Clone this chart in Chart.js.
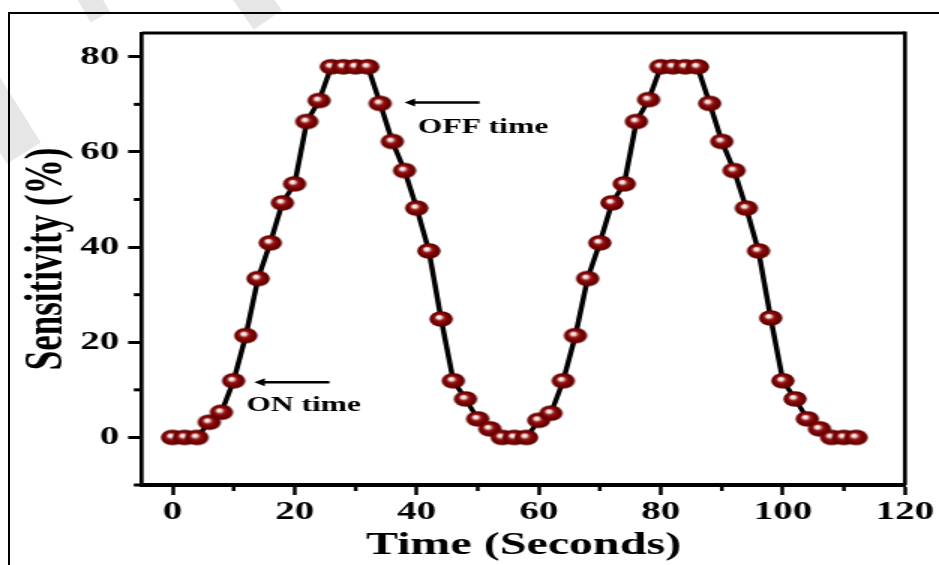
<!DOCTYPE html>
<html>
<head>
<meta charset="utf-8">
<script src="https://cdn.jsdelivr.net/npm/chart.js@4/dist/chart.umd.min.js"></script>
<style>
    html, body { margin: 0; padding: 0; background: #fff; }
    body { width: 939px; height: 565px; position: relative; overflow: hidden; }
    #marco { position: absolute; left: 8px; top: 12px; width: 960px; height: 600px; border-left: 2px solid #000; border-top: 2px solid #000; }
    .marca { position: absolute; background: #e6e6e6; }
    /* la figura original viene estirada a lo ancho */
    #lienzo { position: absolute; left: 0; top: 0; width: 626px; height: 565px; transform: scaleX(1.5); transform-origin: 0 0; }
</style>
</head>
<body>
<div class="marca" style="left:-20px; top:70px; width:40px; height:90px; transform:rotate(-32deg);"></div>
<div class="marca" style="left:78px; top:-25px; width:22px; height:45px; transform:rotate(-30deg);"></div>
<div class="marca" style="left:235px; top:-30px; width:34px; height:55px; transform:rotate(-35deg);"></div>
<div id="marco"></div>
<div id="lienzo"><canvas id="graficoSensibilidad"></canvas></div>

<script>
// datos
var tiempos = [0, 2, 4, 6, 8, 10, 12, 14, 16, 18, 20, 22, 24, 26, 28, 30, 32, 34, 36, 38, 40, 42, 44, 46, 48, 50, 52, 54, 56, 58,
    60, 62, 64, 66, 68, 70, 72, 74, 76, 78, 80, 82, 84, 86, 88, 90, 92, 94, 96, 98, 100, 102, 104, 106, 108, 110, 112];
var sensibilidad = [0, 0, 0, 3.2, 5.3, 11.9, 21.4, 33.4, 40.9, 49.3, 53.3, 66.4, 70.8, 77.9, 77.9, 77.9, 77.9, 70.2, 62.2, 56.1, 48.2, 39.2, 24.9, 11.9, 8.1, 3.9, 1.8, 0, 0, 0,
    3.6, 5.1, 11.9, 21.4, 33.4, 40.9, 49.3, 53.3, 66.4, 71.0, 77.9, 77.9, 77.9, 77.9, 70.2, 62.2, 56.1, 48.2, 39.2, 25.1, 11.9, 8.1, 3.9, 1.8, 0, 0, 0];

var menoresX = [10, 30, 50, 70, 90, 110];
var menoresY = [-10, 10, 30, 50, 70];

// notas con flecha
var notas = ['ON time', 'OFF time'];
var notasX = [12.1, 40.2];
var notasY = [6.7, 65.2];
var flechaDesdeX = [25.7, 50.3];
var flechaHastaX = [13.4, 38.0];
var flechaY = [11.6, 70.4];

var fuente = '"Liberation Serif", "Times New Roman", serif';

function crearEsfera(r) {
    var c = document.createElement('canvas');
    c.width = c.height = Math.ceil(2 * r) + 2;
    var g = c.getContext('2d');
    var cx = c.width / 2, cy = c.height / 2;
    var grad = g.createRadialGradient(cx - 1.8, cy - 2.2, 0, cx, cy, r);
    grad.addColorStop(0, '#ffffff');
    grad.addColorStop(0.2, '#f3dede');
    grad.addColorStop(0.42, '#961515');
    grad.addColorStop(0.7, '#7a0000');
    grad.addColorStop(1, '#560000');
    g.fillStyle = grad;
    g.beginPath();
    g.arc(cx, cy, r, 0, Math.PI * 2);
    g.fill();
    return c;
}

var marcos = {
    id: 'marcos',
    afterDatasetsDraw: function (chart) {
        var ctx = chart.ctx, x = chart.scales.x, y = chart.scales.y;
        ctx.save();
        ctx.strokeStyle = '#000';
        ctx.fillStyle = '#000';
        ctx.lineWidth = 2.5;
        for (var i = 0; i < notas.length; i++) {
            var x1 = x.getPixelForValue(flechaDesdeX[i]);
            var x2 = x.getPixelForValue(flechaHastaX[i]);
            var py = y.getPixelForValue(flechaY[i]);
            ctx.beginPath();
            ctx.moveTo(x1, py);
            ctx.lineTo(x2 + 5, py);
            ctx.stroke();
            ctx.beginPath();
            ctx.moveTo(x2, py);
            ctx.lineTo(x2 + 7, py - 4);
            ctx.lineTo(x2 + 7, py + 4);
            ctx.closePath();
            ctx.fill();
        }
        ctx.font = 'bold 21px ' + fuente;
        ctx.textAlign = 'left';
        ctx.textBaseline = 'middle';
        for (var j = 0; j < notas.length; j++) {
            ctx.fillText(notas[j], x.getPixelForValue(notasX[j]), y.getPixelForValue(notasY[j]));
        }
        ctx.restore();
    },
    afterDraw: function (chart) {
        var ctx = chart.ctx, a = chart.chartArea, x = chart.scales.x, y = chart.scales.y;
        ctx.save();
        ctx.strokeStyle = '#000';
        // ticks menores
        ctx.lineWidth = 2.5;
        menoresX.forEach(function (v) {
            var px = x.getPixelForValue(v);
            ctx.beginPath();
            ctx.moveTo(px, a.bottom);
            ctx.lineTo(px, a.bottom + 6);
            ctx.stroke();
        });
        ctx.lineWidth = 3;
        menoresY.forEach(function (v) {
            var py = y.getPixelForValue(v);
            ctx.beginPath();
            ctx.moveTo(a.left, py);
            ctx.lineTo(a.left - 5.5, py);
            ctx.stroke();
        });
        // lados de arriba y derecha
        ctx.lineWidth = 3;
        ctx.beginPath();
        ctx.moveTo(a.left, a.top);
        ctx.lineTo(a.right, a.top);
        ctx.stroke();
        ctx.lineWidth = 2.7;
        ctx.beginPath();
        ctx.moveTo(a.right, a.top - 1.5);
        ctx.lineTo(a.right, a.bottom);
        ctx.stroke();
        ctx.restore();
    }
};

var puntos = tiempos.map(function (t, i) { return { x: t, y: sensibilidad[i] }; });

new Chart(document.getElementById('graficoSensibilidad'), {
    type: 'line',
    data: {
        datasets: [{
            data: puntos,
            borderColor: '#000',
            borderWidth: 3.5,
            tension: 0,
            pointStyle: crearEsfera(7.8),
            pointRadius: 7.8
        }]
    },
    options: {
        responsive: true,
        maintainAspectRatio: false,
        animation: false,
        layout: { padding: { left: 11, top: 33, right: 22.7, bottom: 0 } },
        plugins: { legend: { display: false }, tooltip: { enabled: false } },
        scales: {
            x: {
                type: 'linear',
                min: -5,
                max: 120,
                ticks: { stepSize: 20, includeBounds: false, color: '#000', padding: 2, font: { family: fuente, weight: 'bold', size: 26 } },
                grid: { display: true, drawOnChartArea: false, drawTicks: true, tickLength: 10, tickWidth: 2.5, tickColor: '#000' },
                border: { display: true, color: '#000', width: 4 },
                title: { display: true, text: 'Time (Seconds)', color: '#000', padding: 0, font: { family: fuente, weight: 'bold', size: 32 } },
                afterFit: function (s) { s.height = 80; }
            },
            y: {
                min: -10,
                max: 85,
                ticks: { stepSize: 20, includeBounds: false, color: '#000', padding: 6, font: { family: fuente, weight: 'bold', size: 26 } },
                grid: { display: true, drawOnChartArea: false, drawTicks: true, tickLength: 9.3, tickWidth: 3, tickColor: '#000' },
                border: { display: true, color: '#000', width: 2.7 },
                title: { display: true, text: 'Sensitivity (%)', color: '#000', padding: 0, font: { family: fuente, weight: 'bold', size: 35 } },
                afterFit: function (s) { s.width = 83.7; }
            }
        }
    },
    plugins: [marcos]
});
</script>
</body>
</html>
